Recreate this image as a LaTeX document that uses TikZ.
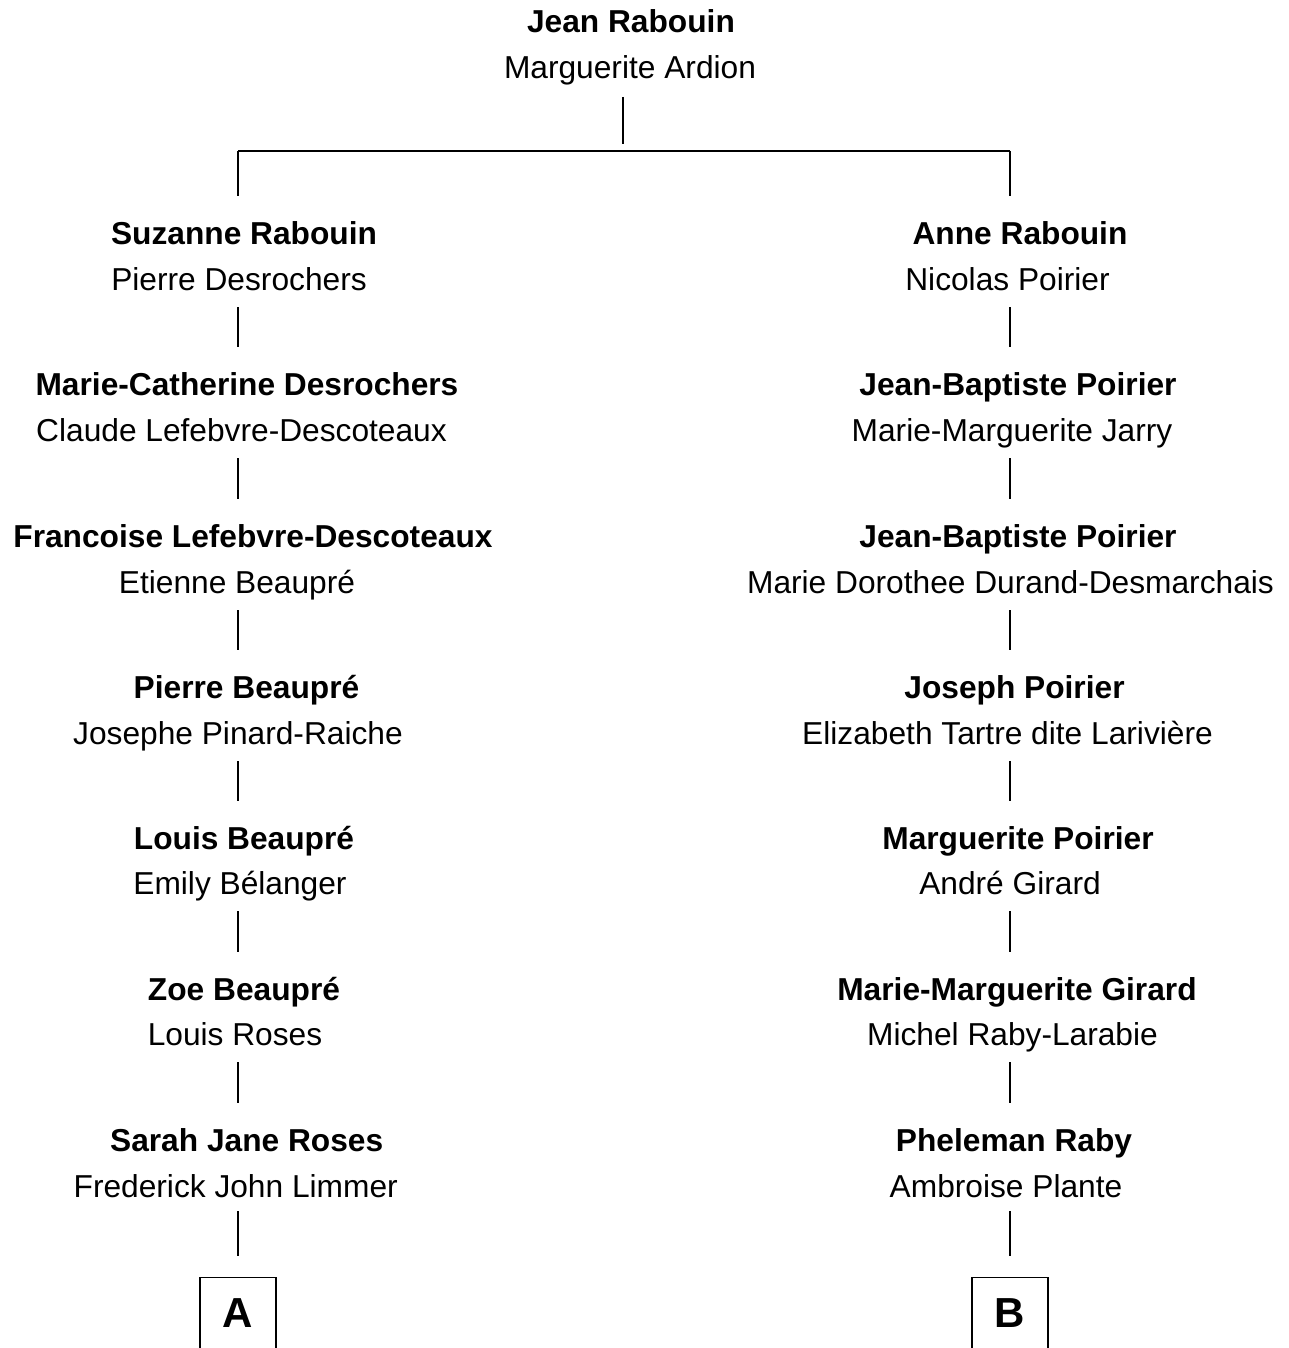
\documentclass[tikz,border=0pt]{standalone}
\usepackage{fontspec}
\setmainfont{Liberation Sans}
\usetikzlibrary{calc}
\begin{document}
\begin{tikzpicture}[x=1pt,y=-1pt,
  nm/.style={inner sep=0pt,anchor=base,font=\fontsize{31.7}{38}\selectfont},
  sp/.style={nm,font=\fontsize{31.7}{38}\selectfont\bfseries},
  conn/.style={line width=1.1pt,black},
  bar/.style={line width=1.6pt,black},
  lettbox/.style={draw,line width=1.3pt,anchor=north,minimum width=76pt,inner xsep=0pt,
    inner ysep=20pt,text height=30pt,text depth=60pt,font=\fontsize{42}{48}\selectfont\bfseries}]
\useasboundingbox (0,0) rectangle (1289,1348);
\clip (0,0) rectangle (1289,1348);
\fill[white] (0,0) rectangle (1289,1348);
% column coordinates
\coordinate (colT) at (623,0);
\coordinate (colL) at (238,0);
\coordinate (colR) at (1010,0);
\coordinate (hT) at (623,151);
\coordinate (hL) at (238,151);
\coordinate (hR) at (1010,151);
% top couple
\node[sp] (tS) at (631,33) {Jean Rabouin};
\node[nm] (tP) at (630,79) {Marguerite Ardion};
% left line
\node[sp] (sL1) at (244,244) {Suzanne Rabouin};
\node[nm] (pL1) at (239,290) {Pierre Desrochers};
\node[sp] (sL2) at (247,395) {Marie-Catherine Desrochers};
\node[nm] (pL2) at (241.5,441) {Claude Lefebvre-Descoteaux};
\node[sp] (sL3) at (253,547) {Francoise Lefebvre-Descoteaux};
\node[nm] (pL3) at (237,593) {Etienne Beaupré};
\node[sp] (sL4) at (246.5,698) {Pierre Beaupré};
\node[nm] (pL4) at (238,744) {Josephe Pinard-Raiche};
\node[sp] (sL5) at (244,849) {Louis Beaupré};
\node[nm] (pL5) at (240,894) {Emily Bélanger};
\node[sp] (sL6) at (244,1000) {Zoe Beaupré};
\node[nm] (pL6) at (235,1045) {Louis Roses};
\node[sp] (sL7) at (246.7,1151) {Sarah Jane Roses};
\node[nm] (pL7) at (235.7,1197) {Frederick John Limmer};
% right line
\node[sp] (sR1) at (1020,244) {Anne Rabouin};
\node[nm] (pR1) at (1007.5,290) {Nicolas Poirier};
\node[sp] (sR2) at (1018,395) {Jean-Baptiste Poirier};
\node[nm] (pR2) at (1012,441) {Marie-Marguerite Jarry};
\node[sp] (sR3) at (1018,547) {Jean-Baptiste Poirier};
\node[nm] (pR3) at (1010.5,593) {Marie Dorothee Durand-Desmarchais};
\node[sp] (sR4) at (1014.5,698) {Joseph Poirier};
\node[nm] (pR4) at (1007.5,744) {Elizabeth Tartre dite Larivière};
\node[sp] (sR5) at (1018,849) {Marguerite Poirier};
\node[nm] (pR5) at (1010,894) {André Girard};
\node[sp] (sR6) at (1017,1000) {Marie-Marguerite Girard};
\node[nm] (pR6) at (1012.5,1045) {Michel Raby-Larabie};
\node[sp] (sR7) at (1014,1151) {Pheleman Raby};
\node[nm] (pR7) at (1006,1197) {Ambroise Plante};
% continuation boxes
\node[lettbox] (boxA) at (238,1277) {A};
\node[lettbox] (boxB) at (1010,1277) {B};
% connectors
\draw[conn] ($(tP.base -| colT)+(0,18)$) -- ($(hT)+(0,-7)$);
\draw[bar] (hL) -- (hR);
\draw[conn] (hL) -- ($(sL1.base -| colL)+(0,-48)$);
\draw[conn] (hR) -- ($(sR1.base -| colR)+(0,-48)$);
\foreach \i in {1,...,6}{
  \pgfmathtruncatemacro{\j}{\i+1}
  \draw[conn] ($(pL\i.base -| colL)+(0,17)$) -- ($(sL\j.base -| colL)+(0,-48)$);
  \draw[conn] ($(pR\i.base -| colR)+(0,17)$) -- ($(sR\j.base -| colR)+(0,-48)$);
}
\draw[conn] ($(pL7.base -| colL)+(0,14)$) -- ($(boxA.north)+(0,-21)$);
\draw[conn] ($(pR7.base -| colR)+(0,14)$) -- ($(boxB.north)+(0,-21)$);
\end{tikzpicture}
\end{document}
